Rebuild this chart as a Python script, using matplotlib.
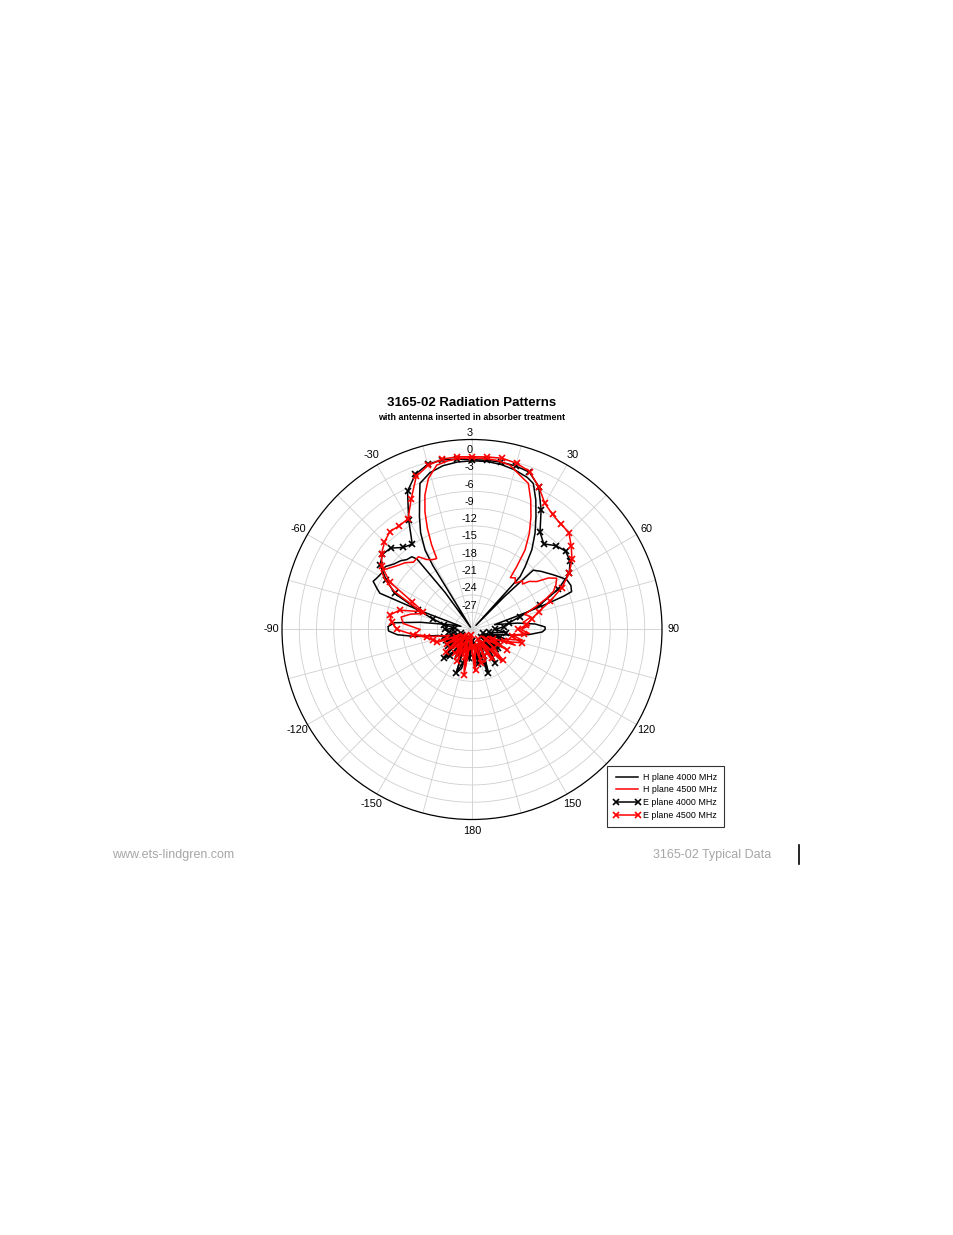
import numpy as np
import matplotlib
matplotlib.use("Agg")
import matplotlib.pyplot as plt
from matplotlib import font_manager
from matplotlib.lines import Line2D

# ---------------- data (dB, angle in degrees, clockwise from top) ----------------
H4000_ANG = [-180, -175, -170, -165, -160, -155, -150, -145, -140, -135, -130, -125, -120,
             -115, -110, -105, -100, -97, -94, -91, -88, -85, -82, -78, -74, -70, -68.5,
             -66.6, -64, -61.7, -58, -54, -50, -46, -43, -39.6, -38, -36, -33, -31.5, -30.6,
             -28, -25, -22, -19.6, -15, -10, -5, 0, 5, 10, 15, 20, 22.8, 26.2, 29.6, 33.2,
             36.9, 40.2, 42.3, 43.5, 44.5, 45.9, 50, 56, 60, 62.4, 66, 69.2, 70, 71, 72.5,
             75, 78, 82, 85, 88, 90, 92, 95, 98, 102, 106, 110, 115, 120, 125, 130, 135,
             140, 144.5, 150, 155, 159, 163, 168, 173, 180]
H4000_DB = [-27, -24.5, -28, -23, -22, -27, -24, -28, -25, -23, -27, -25, -28,
            -24.5, -27, -25, -24, -20, -17, -15.5, -15.4, -16.5, -21, -26, -28, -20, -12.8,
            -12, -10.9, -11.2, -11.5, -11.4, -12.3, -12.8, -13.4, -13.6, -14.5, -22, -29.5, -17, -14,
            -11, -8.4, -5.7, -3.05, -1.8, -1.1, -0.8, -0.7, -0.7, -0.9, -1.3, -1.9, -2.5, -4.9, -7.5, -10,
            -12.7, -15.7, -17.6, -29, -22, -15.2, -14.3, -13, -12, -11.4, -11.2, -11.5, -13, -16, -20,
            -24, -26, -22, -19, -17.3, -17.3, -17.8, -20, -23, -26, -24, -27, -25, -28, -26, -24, -27,
            -25, -23, -27, -25, -22, -27, -24, -28, -27]

H4500_ANG = [-180, -175, -170, -165, -160, -155, -150, -145, -140, -135, -130, -125, -120,
             -115, -110, -105, -100, -95, -90, -85, -80, -76, -72, -68, -64, -60, -57, -53,
             -49, -45, -41, -36.4, -33, -30, -27.5, -26.4, -25.5, -23.8, -21.8, -19.3, -16.1,
             -12.1, -8, -4, 0, 4, 8, 13, 18.7, 21.1, 24.4, 27.6, 30.8, 33.7, 35.4, 36.5, 40,
             43, 46, 48, 50, 53.5, 56, 58.8, 62, 65, 67.3, 70, 74, 78, 82, 86, 90, 94, 98,
             102, 106, 110, 115, 120, 125, 130, 134, 137, 142, 147, 152, 157, 164, 170, 176, 180]
H4500_DB = [-26, -29, -23, -27, -25, -29, -24, -27, -26, -29, -24.5, -27, -25,
            -28, -24, -26, -23, -20, -21, -18, -17.5, -19, -21, -19, -15, -12.5, -11.2, -12.2,
            -13, -13.6, -14.5, -14.3, -15.5, -16, -16.2, -16.2, -13.7, -10.8, -8, -5.25, -2.7,
            -0.8, -0.4, -0.2, -0.2, -0.2, -0.3, -0.7, -2.3, -2.8, -5.3, -7.9, -10.55, -13.4, -16.6, -18.8, -18.3,
            -19, -17.8, -18.2, -17, -16, -14, -12.8, -13.5, -14.4, -16, -18, -20.5, -19.5, -21, -20, -21.5, -20, -23,
            -21, -24, -22, -27, -24, -28, -25, -25.3, -22.4, -27, -23.7, -28, -24, -23.9, -27, -22.7, -26]

E_ANG = list(range(-180, 185, 5))
E4000_DB = [-28, -25, -27, -24, -22, -27, -25, -28, -24, -23, -27, -25, -28,
            -26, -28, -25, -27, -26, -25.3, -27, -25, -23, -20, -15.2, -12.8, -10.5,
            -9.7, -10.0, -11.4, -11.9, -8, -3.5, -1.3, -0.3, -0.1, -0.3, -0.5, -0.5,
            -0.5, -0.6, -0.9, -2.6, -6, -9.4, -10.6, -9.4, -8.8, -9.2, -10.5, -13.5,
            -17.5, -21.4, -23.5, -24.5, -26, -24, -27, -25, -28, -25, -27, -24.5, -28,
            -25, -27, -23, -27, -25, -22, -27, -24, -27, -28]
E4500_DB = [-27, -29, -22, -25, -28, -24, -27, -25, -28, -26, -24, -28, -25,
            -27, -23.5, -23, -22, -19.7, -17, -16, -15.5, -17, -21, -18.5, -13.5, -10.9,
            -9.5, -8.5, -7.8, -8.0, -7.8, -5, -1.7, -0.5, 0.05, 0.1, 0.0, 0.1,
            0.2, -0.1, -0.8, -2.6, -4.7, -5.6, -6.05, -6.2, -7.5, -8.8, -10.5, -12.8,
            -15.5, -18, -19.5, -20.5, -22, -21, -23, -21, -24, -26, -23, -27, -25,
            -22.5, -27, -24, -28, -25, -27, -24, -27, -23, -27]

SERIES_LABELS = ["H plane 4000 MHz", "H plane 4500 MHz", "E plane 4000 MHz", "E plane 4500 MHz"]
R_TICKS = [3, 0, -3, -6, -9, -12, -15, -18, -21, -24, -27]
THETA_LABEL_ANGLES = [-150, -120, -90, -60, -30, 30, 60, 90, 120, 150, 180]
TITLE = "3165-02 Radiation Patterns"
SUBTITLE = "with antenna inserted in absorber treatment"
FOOT_LEFT = "www.ets-lindgren.com"
FOOT_RIGHT = "3165-02 Typical Data"

# ---------------- fonts ----------------
avail = {f.name for f in font_manager.fontManager.ttflist}
NARROW = "Liberation Sans Narrow" if "Liberation Sans Narrow" in avail else "Liberation Sans"
plt.rcParams["font.family"] = [NARROW, "DejaVu Sans"]

W, H = 954, 1235
fig = plt.figure(figsize=(W / 100, H / 100), dpi=100)

cx, cy, R = 472, 629.5, 190
ax = fig.add_axes([(cx - R) / W, (H - cy - R) / H, 2 * R / W, 2 * R / H], projection="polar")
ax.set_theta_zero_location("N")
ax.set_theta_direction(-1)
ax.set_ylim(-30, 3)

# grids
ax.set_yticks(R_TICKS[1:])
ax.set_yticklabels([])
grid_angles = list(range(0, 360, 15))
labels = []
for a in grid_angles:
    s = a if a <= 180 else a - 360
    labels.append(str(s) if (s in THETA_LABEL_ANGLES) else "")
ax.set_thetagrids(grid_angles, labels)
ax.tick_params(axis="x", pad=-2.5, labelsize=7.8)
ax.grid(True, color="#cfcfcf", lw=0.6)
ax.spines["polar"].set_color("black")
ax.spines["polar"].set_linewidth(0.9)

for v in R_TICKS:
    ax.annotate(str(v), xy=(0, v), xytext=(-2, 1.2), textcoords="offset points",
                ha="center", va="bottom", fontsize=7.8, annotation_clip=False)

lw = 1.1
l1, = ax.plot(np.deg2rad(H4000_ANG), H4000_DB, color="black", lw=lw, label=SERIES_LABELS[0])
l3, = ax.plot(np.deg2rad(E_ANG), E4000_DB, color="black", lw=lw, marker="x", ms=5, mew=1.2,
              label=SERIES_LABELS[2])
l2, = ax.plot(np.deg2rad(H4500_ANG), H4500_DB, color="red", lw=lw, label=SERIES_LABELS[1])
l4, = ax.plot(np.deg2rad(E_ANG), E4500_DB, color="red", lw=lw, marker="x", ms=5, mew=1.2,
              label=SERIES_LABELS[3])

leg = fig.legend([l1, l2, l3, l4], SERIES_LABELS, loc="upper left",
                 bbox_to_anchor=(607 / W, 1 - 766 / H), borderaxespad=0,
                 fontsize=6.4, frameon=True, fancybox=False, edgecolor="black",
                 handlelength=3.0, numpoints=2, labelspacing=0.42, borderpad=0.75,
                 handletextpad=0.35)
leg.get_frame().set_linewidth(0.8)

fig.text(cx / W, 1 - 403 / H, TITLE, ha="center", va="center", fontsize=9.5,
         fontweight="bold")
fig.text(cx / W, 1 - 418 / H, SUBTITLE, ha="center", va="center", fontsize=6.4,
         fontweight="bold")

foot_font = ["Liberation Sans", "DejaVu Sans"]
fig.text(112 / W, 1 - 855 / H, FOOT_LEFT, ha="left", va="center", fontsize=9,
         color="#a6a6a6", family=foot_font)
fig.text(653 / W, 1 - 855 / H, FOOT_RIGHT, ha="left", va="center", fontsize=9,
         color="#a6a6a6", family=foot_font)
fig.add_artist(Line2D([799 / W, 799 / W], [1 - 845 / H, 1 - 864 / H], color="black", lw=1.2,
                      transform=fig.transFigure))

fig.savefig("out.png", dpi=100)
